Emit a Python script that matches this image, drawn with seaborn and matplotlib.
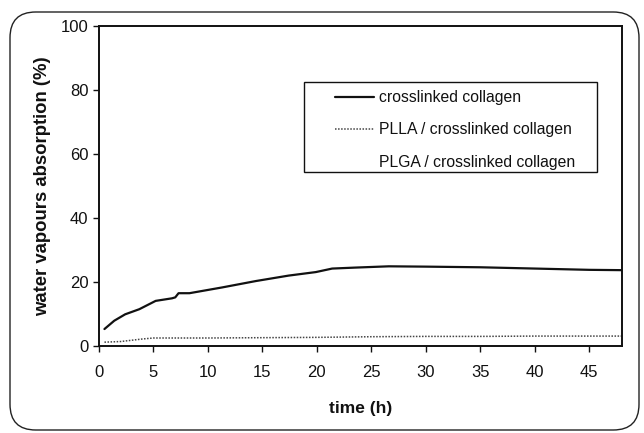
import matplotlib
matplotlib.use("Agg")
import matplotlib.pyplot as plt
from matplotlib.patches import FancyBboxPatch, Rectangle
import seaborn as sns
import pandas as pd

# Data
t_col = [0.5, 1.4, 2.4, 3.7, 5.2, 6.7, 7.0, 7.3, 8.3, 11.3, 14.4, 17.4, 19.9, 21.4, 23.5, 26.6, 30, 35, 40, 45, 48]
v_col = [5.3, 7.9, 9.9, 11.5, 14.1, 14.9, 15.2, 16.5, 16.5, 18.3, 20.3, 22.0, 23.1, 24.2, 24.5, 24.9, 24.8, 24.6, 24.2, 23.8, 23.7]

t_plla = [0.5, 2, 3, 4, 5, 10, 15, 20, 25, 30, 35, 40, 45, 48]
v_plla = [1.2, 1.4, 1.8, 2.2, 2.5, 2.5, 2.6, 2.7, 2.9, 3.0, 3.0, 3.1, 3.1, 3.1]

t_plga = [0.5, 5, 10, 20, 30, 40, 48]
v_plga = [0.4, 0.5, 0.5, 0.5, 0.5, 0.5, 0.5]

labels = ["crosslinked collagen", "PLLA / crosslinked collagen", "PLGA / crosslinked collagen"]
xticks = [0, 5, 10, 15, 20, 25, 30, 35, 40, 45]
yticks = [0, 20, 40, 60, 80, 100]

sns.set_style("ticks")
plt.rcParams['font.family'] = ['Liberation Sans', 'DejaVu Sans']

fig = plt.figure(figsize=(6.44, 4.33), dpi=100)
ax = fig.add_axes([99/644, 1 - 346/433, (622-99)/644, (346-26)/433])

df_col = pd.DataFrame({"t": t_col, "v": v_col})
df_plla = pd.DataFrame({"t": t_plla, "v": v_plla})
df_plga = pd.DataFrame({"t": t_plga, "v": v_plga})

sns.lineplot(data=df_col, x="t", y="v", ax=ax, color="#111111", linewidth=1.6, label=labels[0])
sns.lineplot(data=df_plla, x="t", y="v", ax=ax, color="#444444", linewidth=1.1, linestyle=(0, (1, 1)), label=labels[1])
sns.lineplot(data=df_plga, x="t", y="v", ax=ax, color="#ffffff", linewidth=0.8, linestyle=(0, (1, 2)), label=labels[2])

ax.set_xlim(0, 48)
ax.set_ylim(0, 100)
ax.set_xticks(xticks)
ax.set_yticks(yticks)
ax.tick_params(axis='both', direction='out', length=4, width=1, labelsize=12, colors='#111111')
ax.tick_params(axis='x', pad=10)
for s in ax.spines.values():
    s.set_visible(True)
    s.set_linewidth(1.4)
    s.set_color('#111111')

ax.set_xlabel("time (h)", fontsize=12.5, fontweight='bold', labelpad=15, color='#111111')
ax.set_ylabel("water vapours absorption (%)", fontsize=13.3, fontweight='bold', labelpad=7, color='#111111')

leg = ax.legend(loc='upper left', bbox_to_anchor=(0.451, 0.80), frameon=False,
                fontsize=11.3, handlelength=2.5, handletextpad=0.33, labelspacing=1.1,
                borderpad=0, borderaxespad=0)
for txt in leg.get_texts():
    txt.set_color('#111111')

box = Rectangle((0.392, 0.544), 0.560, 0.281, transform=ax.transAxes, fill=False,
                edgecolor='#111111', linewidth=1.0, zorder=1)
ax.add_patch(box)

frame = FancyBboxPatch((10/644, 3/433), (639-10)/644, (421-3)/433,
                       boxstyle="round,pad=0,rounding_size=0.04",
                       transform=fig.transFigure, fill=False, edgecolor='#222222',
                       linewidth=1.0, mutation_aspect=644/433)
fig.patches.append(frame)

fig.savefig("out.png", dpi=100)
